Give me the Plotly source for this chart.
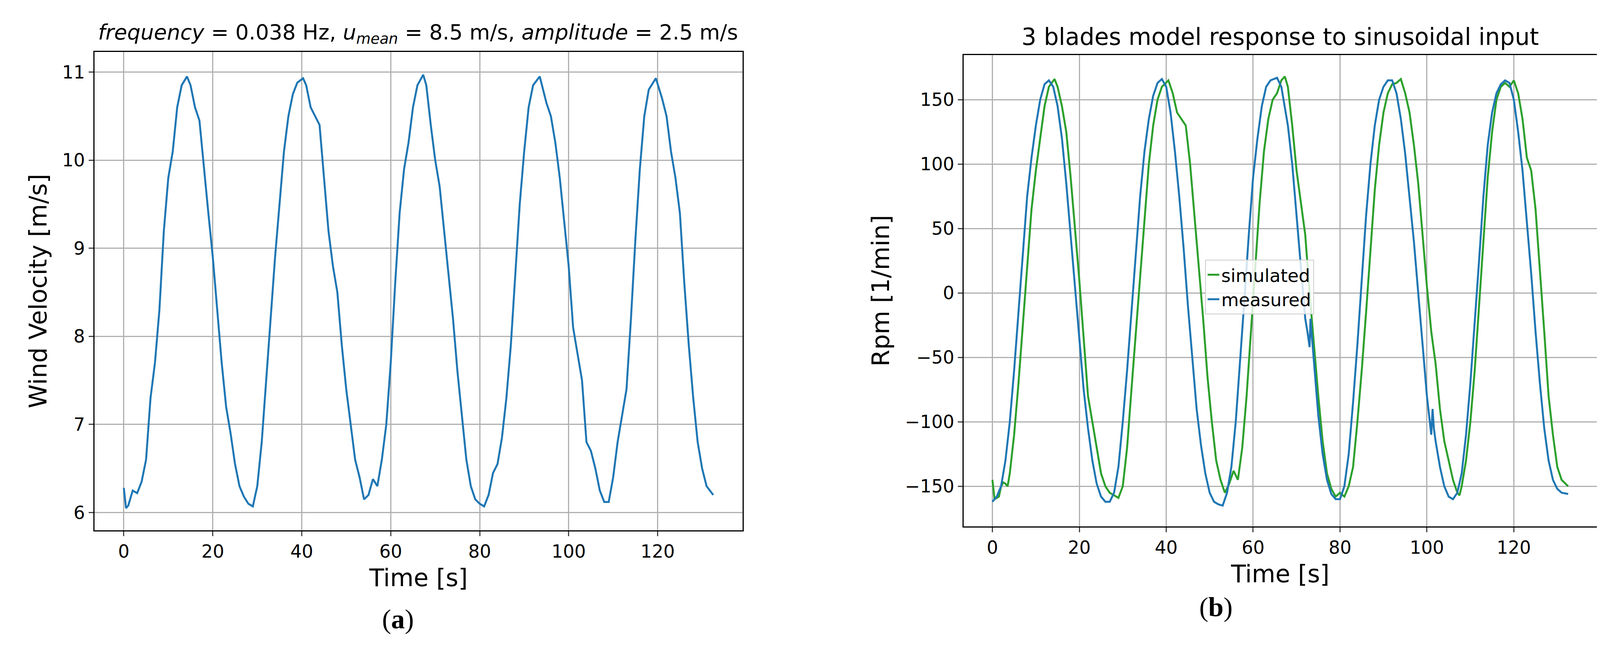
import plotly.graph_objects as go

# (a) wind velocity
t_wind = [0, 0.5, 1, 2, 3, 4, 5, 6, 7, 8, 9, 10, 11, 12, 13, 14.2, 15, 16, 17, 18, 19, 20, 21, 22, 23, 24, 25, 26, 27, 28, 29,
          30, 31, 32, 33, 34, 35, 36, 37, 38, 39, 40.3, 41, 42, 43, 44, 45, 46, 47, 48, 49, 50, 51, 52, 53, 54, 55, 56, 57, 58, 59,
          60, 61, 62, 63, 64, 65, 66, 67.3, 68, 69, 70, 71, 72, 73, 74, 75, 76, 77, 78, 79, 80, 81, 82, 83, 84, 85, 86, 87, 88, 89,
          90, 91, 92, 93.5, 95, 96, 97, 98, 99, 100, 101, 102, 103, 104, 105, 106, 107, 108, 109, 110, 111, 112, 113, 114, 115, 116,
          117, 118, 119.6, 121, 122, 123, 124, 125, 126, 127, 128, 129, 130, 131, 132.5]
v_wind = [6.28, 6.05, 6.08, 6.25, 6.22, 6.35, 6.6, 7.3, 7.7, 8.3, 9.2, 9.8, 10.1, 10.6, 10.85, 10.95, 10.85, 10.6, 10.45, 9.9, 9.4,
          8.9, 8.3, 7.7, 7.2, 6.9, 6.55, 6.3, 6.18, 6.1, 6.07,
          6.3, 6.8, 7.5, 8.2, 8.9, 9.5, 10.1, 10.5, 10.75, 10.88, 10.93, 10.85, 10.6, 10.5, 10.4, 9.8, 9.2, 8.8, 8.5, 7.9,
          7.4, 7.0, 6.6, 6.4, 6.15, 6.2, 6.38, 6.3, 6.6, 7.0,
          7.7, 8.6, 9.4, 9.9, 10.2, 10.6, 10.85, 10.97, 10.85, 10.4, 10.0, 9.7, 9.2, 8.7, 8.2, 7.6, 7.1, 6.6, 6.3, 6.15,
          6.1, 6.07, 6.2, 6.45, 6.55, 6.85, 7.3, 7.9, 8.7, 9.5,
          10.1, 10.6, 10.85, 10.95, 10.65, 10.5, 10.2, 9.8, 9.3, 8.8, 8.1, 7.8, 7.5, 6.8, 6.7, 6.5, 6.25, 6.12, 6.12, 6.4,
          6.8, 7.1, 7.4, 8.2, 9.1, 9.9, 10.5, 10.8, 10.93, 10.7, 10.5, 10.1, 9.8, 9.4, 8.6, 7.9, 7.3, 6.8, 6.5, 6.3, 6.2]

# (b) rpm, measured
t_meas = [0, 1, 2, 3, 4, 5, 6, 7, 8, 9, 10, 11, 12, 13, 14, 15, 16, 17, 18, 19, 20, 21, 22, 23, 24, 25, 26, 27, 28, 29,
          30, 31, 32, 33, 34, 35, 36, 37, 38, 39, 40, 41, 42, 43, 44, 45, 46, 47, 48, 49, 50, 51, 52, 53, 54, 55, 56, 57, 58, 59,
          60, 61, 62, 63, 64, 65.5, 66.5, 68, 69, 70, 71, 72, 72.5, 73, 73.2, 74, 75, 76, 77, 78, 79, 80, 81, 82, 83, 84, 85, 86,
          87, 88, 89, 90, 91, 92, 93, 94, 95, 96, 97, 98, 99, 100, 100.5, 101, 101.3, 101.6, 102, 103, 104, 105, 106, 107, 108,
          109, 110, 111, 112, 113, 114, 115, 116, 117, 118, 119, 120, 121, 122, 123, 124, 125, 126, 127, 128, 129, 130, 131, 132.5]
rpm_meas = [-162, -158, -150, -130, -100, -60, -15, 30, 75, 105, 130, 150, 162, 165, 160, 145, 120, 85, 45, 5, -35, -75, -105,
            -130, -148, -158, -162, -162, -155, -135,
            -100, -60, -15, 30, 75, 110, 135, 153, 163, 166, 160, 140, 110, 75, 35, -10, -50, -90, -118, -140, -155, -162, -164,
            -165, -155, -135, -100, -55, -5, 45,
            90, 120, 145, 160, 165, 167, 160, 130, 100, 60, 20, -20, -30, -42, -20, -55, -95, -125, -145, -156, -160, -160, -150,
            -125, -85, -40, 10, 60,
            100, 130, 150, 160, 165, 165, 155, 135, 108, 75, 40, 0, -40, -80, -95, -110, -90, -105, -115, -135, -150, -158, -160,
            -155, -140,
            -110, -70, -25, 25, 75, 115, 140, 155, 162, 165, 163, 150, 125, 95, 55, 15, -30, -70, -105, -130, -145, -152, -155, -156]

# (b) rpm, simulated
t_sim = [0, 0.5, 1.5, 2, 2.5, 3, 3.5, 4, 5, 6, 7, 8, 9, 10, 11, 12, 13, 14.3, 15, 16, 17, 18, 19, 20, 21, 22, 23, 24, 25, 26,
         27, 28, 29, 30, 31, 32, 33, 34, 35, 36, 37, 38, 39, 40.5, 41.5, 42.5, 43.5, 44.5, 45.5, 46.5, 47.5, 48.5, 49.5, 50.5,
         51.5, 52.5, 53.5, 54.5, 55.5, 56.5, 57.5, 58.5, 59.5, 60.5, 61.5, 62.5, 63.5, 64.5, 65.5, 66.5, 67.3, 68, 69, 70, 71,
         72, 73, 74, 75, 76, 77, 78, 79, 80, 81, 82, 83, 84, 85, 86, 87, 88, 89, 90, 91, 92, 93, 94, 95, 96, 97, 98, 99, 100,
         101, 102, 103, 104, 105, 106, 107, 107.5, 108, 109, 110, 111, 112, 113, 114, 115, 116, 117, 118, 119, 120, 121, 122,
         123, 124, 125, 126, 127, 128, 129, 130, 131, 132.5]
rpm_sim = [-145, -160, -158, -150, -147, -148, -150, -140, -110, -70, -25, 20, 65, 95, 120, 145, 160, 166, 160, 145, 125, 90,
           50, 10, -35, -80, -100, -120, -140, -150,
           -155, -157, -159, -150, -120, -75, -30, 15, 60, 100, 130, 150, 160, 165, 155, 140, 135, 130, 100, 60, 20, -20, -65,
           -100, -130, -145, -155, -148, -138, -145, -120, -80, -30, 20, 70, 110, 135, 150, 155, 165, 168, 160, 130, 95, 70,
           45, 0, -40, -80, -115, -140, -152, -158, -155, -158, -150, -135, -100, -60, -15, 35, 80, 115, 140, 155, 162, 163,
           166, 155, 140, 115, 85, 45, 5,
           -30, -55, -90, -115, -130, -145, -155, -157, -150, -130, -100, -60, -10, 40, 90, 125, 150, 160, 163, 160, 165, 155,
           135, 105, 95, 65, 20, -30, -80, -110, -135, -145, -150]

BLUE = "#1f77b4"
GREEN = "#2ca02c"
FONT = "DejaVu Sans"

fig = go.Figure()
fig.add_trace(go.Scatter(x=t_wind, y=v_wind, mode="lines", line=dict(color=BLUE, width=5),
                         showlegend=False, xaxis="x", yaxis="y"))
fig.add_trace(go.Scatter(x=t_sim, y=rpm_sim, mode="lines", name="simulated", line=dict(color=GREEN, width=5),
                         xaxis="x2", yaxis="y2"))
fig.add_trace(go.Scatter(x=t_meas, y=rpm_meas, mode="lines", name="measured", line=dict(color=BLUE, width=5),
                         xaxis="x2", yaxis="y2"))

ax = dict(showline=True, mirror=True, linecolor="black", linewidth=3, ticks="outside", ticklen=12, tickwidth=3,
          showgrid=True, gridcolor="#b0b0b0", gridwidth=3, zeroline=False, tickfont=dict(size=46, family=FONT))

fig.update_layout(
    width=4102, height=1685,
    paper_bgcolor="white", plot_bgcolor="white",
    margin=dict(l=0, r=0, t=0, b=0),
    font=dict(family=FONT, color="black"),
    xaxis=dict(ax, domain=[0.057, 0.4615], range=[-6.6, 139.1], dtick=20, anchor="y",
               title=dict(text="Time [s]", font=dict(size=62), standoff=20)),
    yaxis=dict(ax, domain=[0.199, 0.926], range=[5.8, 11.23], dtick=1, anchor="x",
               title=dict(text="Wind Velocity [m/s]", font=dict(size=62), standoff=20)),
    xaxis2=dict(ax, domain=[0.5995, 0.9946], range=[-6.6, 139.1], dtick=20, anchor="y2",
                title=dict(text="Time [s]", font=dict(size=62), standoff=20)),
    yaxis2=dict(ax, domain=[0.205, 0.921], range=[-181, 184.6], dtick=50, anchor="x2",
                title=dict(text="Rpm [1/min]", font=dict(size=62), standoff=20)),
    legend=dict(x=0.75, y=0.61, xanchor="left", yanchor="top", bgcolor="rgba(255,255,255,0.8)",
                bordercolor="#cccccc", borderwidth=2, font=dict(size=46, family=FONT)),
    annotations=[
        dict(text="<i>frequency</i> = 0.038 Hz, <i>u</i><sub><i>mean</i></sub> = 8.5 m/s, <i>amplitude</i> = 2.5 m/s",
             x=0.259, y=0.932, xref="paper", yref="paper", xanchor="center", yanchor="bottom",
             showarrow=False, font=dict(size=54)),
        dict(text="3 blades model response to sinusoidal input", x=0.797, y=0.927, xref="paper", yref="paper",
             xanchor="center", yanchor="bottom", showarrow=False, font=dict(size=60)),
        dict(text="(<b>a</b>)", x=0.236, y=0.04, xref="paper", yref="paper", showarrow=False,
             font=dict(size=70, family="Liberation Serif")),
        dict(text="(<b>b</b>)", x=0.768, y=0.058, xref="paper", yref="paper", showarrow=False,
             font=dict(size=70, family="Liberation Serif")),
    ],
)

fig.write_html("out.html")
